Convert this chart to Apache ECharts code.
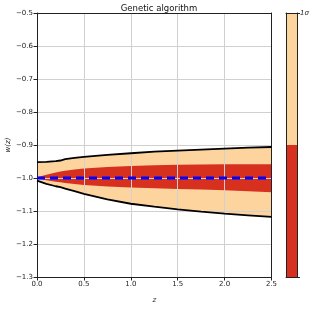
<!DOCTYPE html>
<html>
<head>
<meta charset="utf-8">
<script src="https://cdn.jsdelivr.net/npm/echarts@6/dist/echarts.min.js"></script>
<style>html,body{margin:0;padding:0;background:#fff;}#c{width:330px;height:314px;}</style>
</head>
<body>
<div id="c"></div>
<script>
var zValues   = [0, 0.1, 0.2, 0.25, 0.3, 0.4, 0.5, 0.75, 1.0, 1.25, 1.5, 1.75, 2.0, 2.25, 2.5];
var upperOuter = [-0.952,-0.951,-0.949,-0.947,-0.943,-0.939,-0.936,-0.930,-0.925,-0.920,-0.917,-0.914,-0.911,-0.908,-0.906];
var lowerOuter = [-1.008,-1.018,-1.025,-1.028,-1.032,-1.040,-1.048,-1.065,-1.078,-1.087,-1.095,-1.102,-1.108,-1.113,-1.118];
var upperInner = [-0.998,-0.990,-0.983,-0.980,-0.978,-0.974,-0.971,-0.967,-0.964,-0.961,-0.960,-0.959,-0.958,-0.958,-0.958];
var lowerInner = [-1.002,-1.007,-1.011,-1.013,-1.015,-1.018,-1.021,-1.026,-1.029,-1.031,-1.033,-1.035,-1.037,-1.040,-1.043];
var referenceW = [-1.0, -1.0];
var referenceZ = [0, 2.5];
var yTicks = [-1.3, -1.2, -1.1, -1.0, -0.9, -0.8, -0.7, -0.6, -0.5];
var xTicks = [0.0, 0.5, 1.0, 1.5, 2.0, 2.5];
var colorbarParts = [0.5, 0.5];
var colorbarLabel = '1σ';
var titleText = 'Genetic algorithm';

var PEACH = '#fdd49e', RED = '#d7301f';
var FONT = 'DejaVu Sans';

function pairs(xs, ys) { return xs.map(function (x, i) { return [x, ys[i]]; }); }
function band(ys, color) {
  return {type: 'line', xAxisIndex: 0, yAxisIndex: 0, z: 1, data: pairs(zValues, ys),
    symbol: 'none', silent: true, lineStyle: {width: 0, color: color},
    areaStyle: {color: color, opacity: 1, origin: 'start'}};
}

var chart = echarts.init(document.getElementById('c'), null, {renderer: 'canvas'});
var axisLabelStyle = {fontFamily: FONT, fontSize: 7, color: '#222'};
var option = {
  animation: false,
  title: {text: titleText, left: 154, top: -1, textAlign: 'center',
    textStyle: {fontFamily: FONT, fontSize: 8.5, fontWeight: 'normal', color: '#111'}},
  grid: [
    {left: 37, top: 13, width: 234.5, height: 264, containLabel: false, outerBoundsMode: 'none'},
    {left: 286, top: 13, width: 11, height: 264, containLabel: false, outerBoundsMode: 'none'}
  ],
  xAxis: [
    {gridIndex: 0, type: 'value', min: 0, max: 2.5, interval: 0.5, z: 3,
     name: 'z', nameLocation: 'middle', nameGap: 20, nameMoveOverlap: false,
     nameTextStyle: {fontFamily: FONT, fontSize: 7, fontStyle: 'italic', color: '#222'},
     axisLine: {show: true, onZero: false, lineStyle: {color: '#222', width: 1}},
     axisTick: {show: true, length: 3.5, lineStyle: {color: '#222'}},
     axisLabel: Object.assign({margin: 4, formatter: function (v) { return v.toFixed(1); }}, axisLabelStyle),
     splitLine: {show: true, lineStyle: {color: '#d0d0d0', width: 1}}},
    {gridIndex: 0, type: 'value', min: 0, max: 2.5, position: 'top', z: 3,
     axisLine: {show: true, onZero: false, lineStyle: {color: '#222', width: 1}},
     axisTick: {show: false}, axisLabel: {show: false}, splitLine: {show: false}},
    {gridIndex: 1, type: 'category', data: ['cb'], z: 3,
     axisLine: {show: true, onZero: false, lineStyle: {color: '#222', width: 1}},
     axisTick: {show: false}, axisLabel: {show: false}},
    {gridIndex: 1, type: 'category', data: ['cb'], position: 'top', z: 3,
     axisLine: {show: true, onZero: false, lineStyle: {color: '#222', width: 1}},
     axisTick: {show: false}, axisLabel: {show: false}}
  ],
  yAxis: [
    {gridIndex: 0, type: 'value', min: -1.3, max: -0.5, interval: 0.1, z: 3,
     name: 'w(z)', nameLocation: 'middle', nameGap: 25, nameRotate: 90, nameMoveOverlap: false,
     nameTextStyle: {fontFamily: FONT, fontSize: 7, fontStyle: 'italic', color: '#222'},
     axisLine: {show: true, onZero: false, lineStyle: {color: '#222', width: 1}},
     axisTick: {show: true, length: 3.5, lineStyle: {color: '#222'}},
     axisLabel: Object.assign({margin: 4, formatter: function (v) {
       var s = v.toFixed(1); return s.replace('-', '\u2212'); }}, axisLabelStyle),
     splitLine: {show: true, lineStyle: {color: '#d0d0d0', width: 1}}},
    {gridIndex: 0, type: 'value', min: -1.3, max: -0.5, position: 'right', z: 3,
     axisLine: {show: true, onZero: false, lineStyle: {color: '#222', width: 1}},
     axisTick: {show: false}, axisLabel: {show: false}, splitLine: {show: false}},
    {gridIndex: 1, type: 'value', min: 0, max: 1, interval: 1, position: 'right', z: 3,
     axisLine: {show: true, onZero: false, lineStyle: {color: '#222', width: 1}},
     axisTick: {show: true, length: 3, lineStyle: {color: '#222'}},
     axisLabel: {margin: 3, fontFamily: FONT, fontSize: 7, fontStyle: 'italic', color: '#222',
       formatter: function (v) { return v === 1 ? colorbarLabel : ''; }},
     splitLine: {show: false}},
    {gridIndex: 1, type: 'value', min: 0, max: 1, position: 'left', z: 3,
     axisLine: {show: true, onZero: false, lineStyle: {color: '#222', width: 1}},
     axisTick: {show: false}, axisLabel: {show: false}, splitLine: {show: false}}
  ],
  series: [
    band(upperOuter, PEACH),
    band(upperInner, RED),
    band(lowerInner, PEACH),
    band(lowerOuter, '#ffffff'),
    {type: 'line', xAxisIndex: 0, yAxisIndex: 0, z: 4, data: pairs(zValues, upperOuter),
     symbol: 'none', lineStyle: {color: '#000', width: 1.8}},
    {type: 'line', xAxisIndex: 0, yAxisIndex: 0, z: 4, data: pairs(zValues, lowerOuter),
     symbol: 'none', lineStyle: {color: '#000', width: 1.8}},
    {type: 'line', xAxisIndex: 0, yAxisIndex: 0, z: 5, data: pairs(referenceZ, referenceW),
     symbol: 'none', lineStyle: {color: '#0000ff', width: 3.2, type: [8, 5], cap: 'butt'}},
    {type: 'bar', xAxisIndex: 2, yAxisIndex: 2, stack: 'cb', barWidth: '100%', z: 1,
     data: [colorbarParts[0]], itemStyle: {color: RED}},
    {type: 'bar', xAxisIndex: 2, yAxisIndex: 2, stack: 'cb', barWidth: '100%', z: 1,
     data: [colorbarParts[1]], itemStyle: {color: PEACH}}
  ]
};
chart.setOption(option);
</script>
</body>
</html>
